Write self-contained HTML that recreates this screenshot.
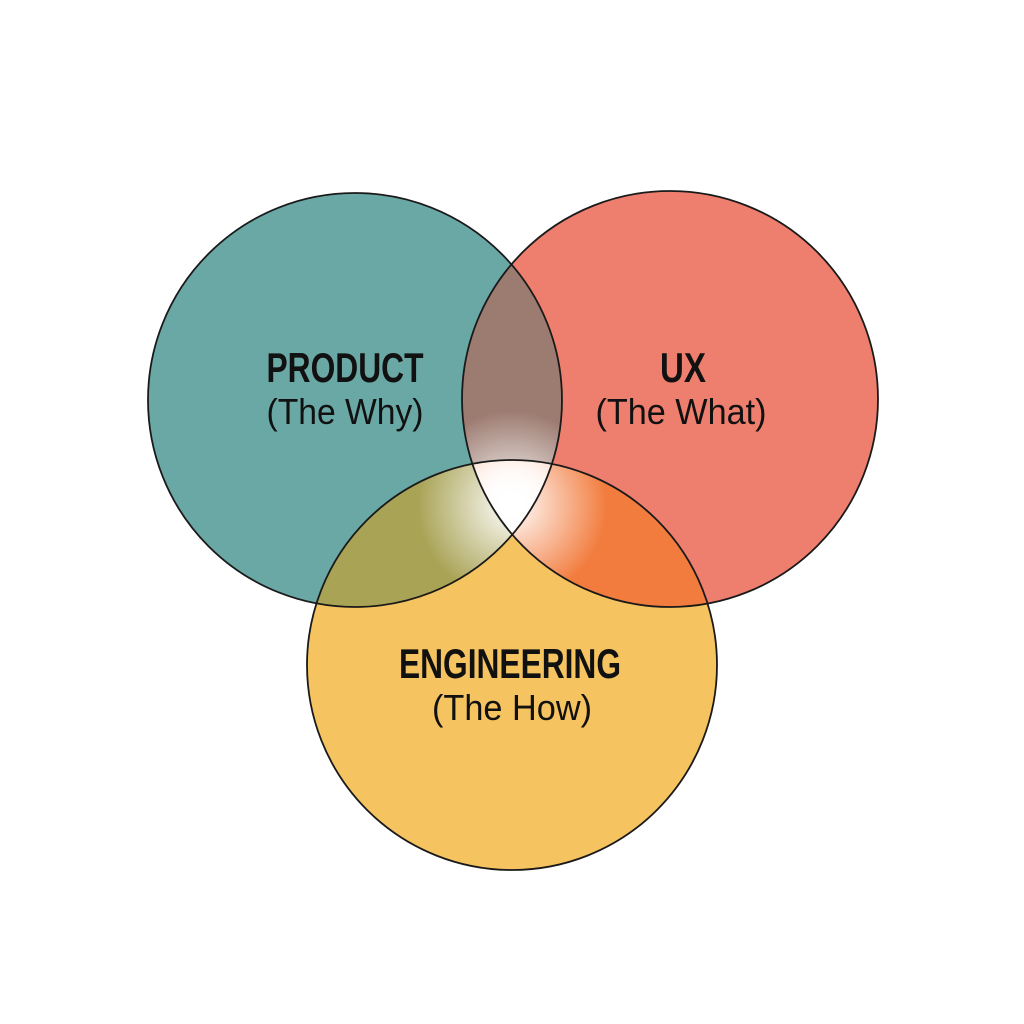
<!DOCTYPE html>
<html><head><style>html,body{margin:0;padding:0;background:#fff}svg{display:block}</style></head>
<body>
<svg width="1024" height="1024" viewBox="0 0 1024 1024" xmlns="http://www.w3.org/2000/svg">
<defs>
<clipPath id="cp"><circle cx="355" cy="400" r="207"/></clipPath>
<clipPath id="cu"><circle cx="670" cy="399" r="208"/></clipPath>
<clipPath id="ce"><circle cx="512" cy="665" r="205"/></clipPath>
<radialGradient id="glow" cx="512" cy="505" r="95" gradientUnits="userSpaceOnUse">
<stop offset="0" stop-color="#fff" stop-opacity="1"/>
<stop offset="0.2" stop-color="#fff" stop-opacity="0.8"/>
<stop offset="1" stop-color="#fff" stop-opacity="0"/>
</radialGradient>
</defs>
<rect width="1024" height="1024" fill="#fff"/>
<circle cx="355" cy="400" r="207" fill="#6aa8a6"/>
<circle cx="670" cy="399" r="208" fill="#ee7f6e"/>
<circle cx="512" cy="665" r="205" fill="#f5c35f"/>
<g clip-path="url(#cp)"><circle cx="670" cy="399" r="208" fill="#9c7b70"/></g>
<g clip-path="url(#cp)"><circle cx="512" cy="665" r="205" fill="#a9a356"/></g>
<g clip-path="url(#cu)"><circle cx="512" cy="665" r="205" fill="#f27c3e"/></g>
<g clip-path="url(#cp)"><circle cx="670" cy="399" r="208" fill="url(#glow)"/><circle cx="512" cy="665" r="205" fill="url(#glow)"/></g>
<g clip-path="url(#cu)"><circle cx="512" cy="665" r="205" fill="url(#glow)"/></g>
<g fill="none" stroke="#1a1a1a" stroke-width="1.8">
<circle cx="355" cy="400" r="207"/>
<circle cx="670" cy="399" r="208"/>
<circle cx="512" cy="665" r="205"/>
</g>
<g font-family="'Liberation Sans Narrow','Liberation Sans',sans-serif" fill="#111" text-anchor="middle">
<text x="345" y="382" font-size="42" font-weight="bold" textLength="157" lengthAdjust="spacingAndGlyphs">PRODUCT</text>
<text x="345" y="424" font-size="36" textLength="157" lengthAdjust="spacingAndGlyphs">(The Why)</text>
<text x="683" y="382" font-size="42" font-weight="bold" textLength="46" lengthAdjust="spacingAndGlyphs">UX</text>
<text x="681" y="424" font-size="36" textLength="171" lengthAdjust="spacingAndGlyphs">(The What)</text>
<text x="510" y="678" font-size="42" font-weight="bold" textLength="222" lengthAdjust="spacingAndGlyphs">ENGINEERING</text>
<text x="512" y="720" font-size="36" textLength="160" lengthAdjust="spacingAndGlyphs">(The How)</text>
</g>
</svg>
</body></html>
